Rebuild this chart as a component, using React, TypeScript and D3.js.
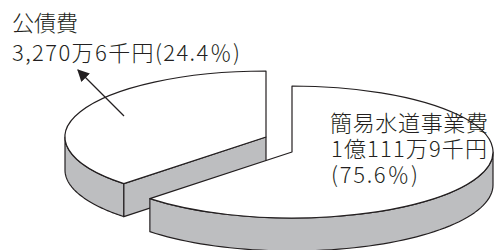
import React from 'react';
import * as d3 from 'd3';

// data
const categories = ['公債費', '簡易水道事業費'];
const amounts = ['3,270万6千円', '1億111万9千円'];
const shares = [24.4, 75.6];

const W = 495;
const H = 250;
const cx = 292;
const cy = 152;
const rx = 201;
const ry = 66;
const depth = 33;
const explode: [number, number][] = [[-26, -15], [0, 0]];

const ink = '#231f20';
const sideFill = '#bdbec0';
const font = '"Noto Sans CJK JP", "Noto Sans", sans-serif';
const deg = Math.PI / 180;

// the printed chart squeezes the big slice, so the angle scale is piecewise
const total = d3.sum(shares);
const angle = d3
  .scaleLinear()
  .domain([0, (2 * Math.PI * shares[0]) / total, 2 * Math.PI])
  .range([-135 * deg, 0, 225 * deg]);

const slices = d3.pie<number>().sort(null)(shares).map((p, i) => {
  let a0 = angle(p.startAngle);
  let a1 = angle(p.endAngle);
  if (a0 < 0) {
    a0 += 2 * Math.PI;
    a1 += 2 * Math.PI;
  }
  return { a0, a1, ox: explode[i][0], oy: explode[i][1], i };
});

const pt = (a: number, ox: number, oy: number, dz = 0): [number, number] => [
  cx + ox + rx * Math.sin(a),
  cy + oy - ry * Math.cos(a) + dz,
];

const line = d3.line<[number, number]>();
const arc = d3.arc<any>();

function wallPath(s: typeof slices[number]) {
  // only the front half of the rim faces the viewer
  const lo = Math.max(s.a0, 90 * deg);
  const hi = Math.min(s.a1, 270 * deg);
  if (hi <= lo) return null;
  const steps = d3.range(0, 61).map((k) => lo + ((hi - lo) * k) / 60);
  const top = steps.map((a) => pt(a, s.ox, s.oy));
  const bottom = steps.map((a) => pt(a, s.ox, s.oy, depth)).reverse();
  return line([...top, ...bottom]) + 'Z';
}

function facePaths(s: typeof slices[number]) {
  const out: string[] = [];
  const c: [number, number] = [cx + s.ox, cy + s.oy];
  const cd: [number, number] = [c[0], c[1] + depth];
  const edges = [
    { a: s.a0, n: s.a0 - Math.PI / 2 },
    { a: s.a1, n: s.a1 + Math.PI / 2 },
  ];
  edges.forEach((e) => {
    if (Math.cos(e.n) < -0.01) {
      out.push(line([c, pt(e.a, s.ox, s.oy), pt(e.a, s.ox, s.oy, depth), cd]) + 'Z');
    }
  });
  return out;
}

const pct = (v: number) => `(${v.toFixed(1)}％)`;

export default function App() {
  return (
    <svg
      width={W}
      height={H}
      viewBox={`0 0 ${W} ${H}`}
      style={{ position: 'absolute', left: 0, top: 0, background: '#fff' }}
    >
      <defs>
        <marker
          id="head"
          viewBox="0 0 10 10"
          refX="9"
          refY="5"
          markerWidth="12"
          markerHeight="12"
          markerUnits="userSpaceOnUse"
          orient="auto"
        >
          <path d="M0,0 L10,5 L0,10 Z" fill={ink} />
        </marker>
      </defs>
      {slices.map((s) => (
        <g key={s.i}>
          {wallPath(s) && (
            <path d={wallPath(s)!} fill={sideFill} stroke={ink} strokeWidth={1.2} strokeLinejoin="round" />
          )}
          {facePaths(s).map((d, k) => (
            <path key={k} d={d} fill={sideFill} stroke={ink} strokeWidth={1.2} strokeLinejoin="round" />
          ))}
          <path
            d={arc({ innerRadius: 0, outerRadius: rx, startAngle: s.a0, endAngle: s.a1 }) as string}
            transform={`translate(${cx + s.ox},${cy + s.oy}) scale(1,${ry / rx})`}
            fill="#fff"
            stroke={ink}
            strokeWidth={1.2}
            vectorEffect="non-scaling-stroke"
            strokeLinejoin="round"
          />
        </g>
      ))}
      <line x1={124} y1={116} x2={78} y2={70} stroke={ink} strokeWidth={1.3} markerEnd="url(#head)" />
      <g fontFamily={font} fontSize={22} fontWeight={300} fill={ink}>
        <text x={12} y={31}>{categories[0]}</text>
        <text x={12} y={61} textLength={228} lengthAdjust="spacing">
          {amounts[0] + pct(shares[0])}
        </text>
        <text x={330} y={131} textLength={158} lengthAdjust="spacing">
          {categories[1]}
        </text>
        <text x={331} y={157} textLength={156} lengthAdjust="spacing">
          {amounts[1]}
        </text>
        <text x={331} y={183} textLength={87} lengthAdjust="spacing">
          {pct(shares[1])}
        </text>
      </g>
    </svg>
  );
}
